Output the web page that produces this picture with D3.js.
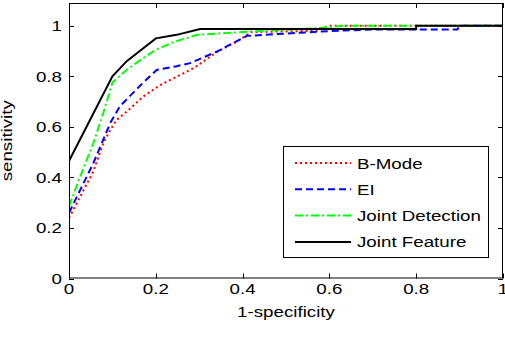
<!DOCTYPE html>
<html>
<head>
<meta charset="utf-8">
<script src="https://cdn.jsdelivr.net/npm/d3@7"></script>
<style>
  body { margin: 0; background: #fff; }
  text { font-family: "Liberation Sans", Arial, sans-serif; font-size: 15px; fill: #000; }
</style>
</head>
<body>
<div id="svgcontainer"></div>
<script>
// ROC curves
const bModeX = [0, 0.056, 0.079, 0.095, 0.11, 0.133, 0.171, 0.21, 0.287, 0.34, 0.394, 0.42, 0.57, 0.6, 1]
const bModeY = [0.24, 0.423, 0.535, 0.588, 0.628, 0.66, 0.72, 0.765, 0.832, 0.895, 0.945, 0.975, 0.98, 1.0, 1.0]

const elX = [0, 0.056, 0.095, 0.118, 0.171, 0.202, 0.248, 0.279, 0.341, 0.41, 0.53, 0.6, 0.7, 0.895, 0.9, 1]
const elY = [0.26, 0.456, 0.615, 0.683, 0.775, 0.825, 0.84, 0.852, 0.898, 0.96, 0.972, 0.979, 0.985, 0.985, 1.0, 1.0]

const jointDetX = [0, 0.025, 0.056, 0.079, 0.1, 0.133, 0.171, 0.2, 0.24, 0.295, 0.42, 0.57, 0.63, 1]
const jointDetY = [0.285, 0.40, 0.535, 0.655, 0.775, 0.826, 0.872, 0.905, 0.935, 0.964, 0.977, 0.99, 1.0, 1.0]

const jointFeatX = [0, 0.1, 0.133, 0.2, 0.248, 0.302, 0.8, 0.8, 1]
const jointFeatY = [0.465, 0.80, 0.86, 0.95, 0.964, 0.987, 0.987, 1.0, 1.0]

const seriesNames = ["B-Mode", "EI", "Joint Detection", "Joint Feature"]
const xTicks = [0, 0.2, 0.4, 0.6, 0.8, 1]
const yTicks = [0, 0.2, 0.4, 0.6, 0.8, 1]

const width = 505
const height = 337
const plotLeft = 69, plotRight = 503, plotTop = 3, plotBottom = 278.5
const stretch = 1.25 // the source text is wider than the font

const styles = [
  { color: "#ff0000", dash: "2,3" },
  { color: "#0000ff", dash: "7,4" },
  { color: "#00ff00", dash: "8,3,2,3" },
  { color: "#000000", dash: null }
]

const series = [
  bModeX.map((v, i) => [v, bModeY[i]]),
  elX.map((v, i) => [v, elY[i]]),
  jointDetX.map((v, i) => [v, jointDetY[i]]),
  jointFeatX.map((v, i) => [v, jointFeatY[i]])
]

const x = d3.scaleLinear().domain([0, 1]).range([plotLeft, plotRight])
const y = d3.scaleLinear().domain([0, 1.09]).range([plotBottom, plotTop])

const svg = d3.select("#svgcontainer")
  .append("svg")
    .attr("width", width)
    .attr("height", height)

svg.append("defs").append("clipPath")
    .attr("id", "plotclip")
  .append("rect")
    .attr("x", plotLeft).attr("y", plotTop)
    .attr("width", plotRight - plotLeft).attr("height", plotBottom - plotTop)

const line = d3.line().x(d => x(d[0])).y(d => y(d[1]))

svg.append("g")
    .attr("clip-path", "url(#plotclip)")
  .selectAll("path")
  .data(series)
  .join("path")
    .attr("d", line)
    .attr("fill", "none")
    .attr("stroke", (d, i) => styles[i].color)
    .attr("stroke-width", 2)
    .attr("stroke-dasharray", (d, i) => styles[i].dash)

// box + inward ticks, matlab style
const axes = svg.append("g").attr("stroke", "#000").attr("stroke-width", 1).attr("fill", "none")
axes.append("rect")
    .attr("x", plotLeft + 0.5).attr("y", plotTop + 0.5)
    .attr("width", plotRight - plotLeft - 1).attr("height", plotBottom - plotTop - 1)

xTicks.forEach(t => {
  const px = Math.round(x(t)) + 0.5
  axes.append("line").attr("x1", px).attr("x2", px).attr("y1", plotBottom).attr("y2", plotBottom - 5)
  axes.append("line").attr("x1", px).attr("x2", px).attr("y1", plotTop).attr("y2", plotTop + 5)
})
yTicks.forEach(t => {
  const py = Math.round(y(t)) + 0.5
  axes.append("line").attr("x1", plotLeft).attr("x2", plotLeft + 5).attr("y1", py).attr("y2", py)
  axes.append("line").attr("x1", plotRight).attr("x2", plotRight - 5).attr("y1", py).attr("y2", py)
})

const label = (g, str, tx, ty, anchor, extra) =>
  g.append("text")
    .attr("transform", `translate(${tx},${ty}) ${extra || ""} scale(${stretch},1)`)
    .attr("text-anchor", anchor)
    .text(str)

xTicks.forEach(t => label(svg, d3.format("~g")(t), x(t), 294, "middle"))
yTicks.forEach(t => label(svg, d3.format("~g")(t), 62, y(t) + 5.5, "end"))

label(svg, "1-specificity", (plotLeft + plotRight) / 2, 317, "middle")
label(svg, "sensitivity", 12, (plotTop + plotBottom) / 2, "middle", "rotate(-90)")

// legend
const legend = svg.append("g")
legend.append("rect")
    .attr("x", 283.5).attr("y", 146.5)
    .attr("width", 205).attr("height", 111)
    .attr("fill", "#fff").attr("stroke", "#000")

seriesNames.forEach((name, i) => {
  const ry = 163 + i * 26.3
  legend.append("line")
      .attr("x1", 295).attr("x2", 351)
      .attr("y1", ry).attr("y2", ry)
      .attr("stroke", styles[i].color)
      .attr("stroke-width", 2)
      .attr("stroke-dasharray", styles[i].dash)
  label(legend, name, 357, ry + 5.5, "start")
})
</script>
</body>
</html>
